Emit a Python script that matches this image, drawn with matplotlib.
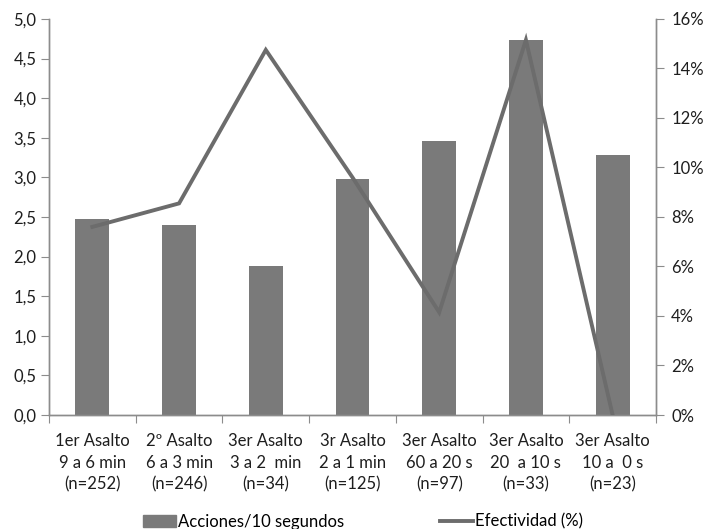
import matplotlib.pyplot as plt
import numpy as np
from matplotlib.ticker import FuncFormatter, FixedLocator
from matplotlib.lines import Line2D
from matplotlib.patches import Patch

categories = [
    "1er Asalto\n9 a 6 min\n(n=252)",
    "2º Asalto\n6 a 3 min\n(n=246)",
    "3er Asalto\n3 a 2  min\n(n=34)",
    "3r Asalto\n2 a 1 min\n(n=125)",
    "3er Asalto\n60 a 20 s\n(n=97)",
    "3er Asalto\n20  a 10 s\n(n=33)",
    "3er Asalto\n10 a  0 s\n(n=23)",
]
acciones = [2.47, 2.40, 1.88, 2.98, 3.46, 4.73, 3.28]
efectividad = [7.6, 8.55, 14.75, 9.6, 4.15, 15.15, 0.0]

plt.rcParams['font.family'] = ['Lato', 'DejaVu Sans']
bar_col = '#7a7a7a'
line_col = '#6c6c6c'
axis_col = '#8c8c8c'
txt_col = '#1e1e1e'
fs = 12

fig = plt.figure(figsize=(7.04, 5.29), dpi=100)
ax = fig.add_axes([0.0696, 0.2155, 0.8622, 0.7486])
x = np.arange(len(categories))
ax.bar(x, acciones, width=0.39, color=bar_col, zorder=2)
ax.set_xlim(-0.5, len(categories) - 0.5)
ax.set_ylim(0, 5)
ax.set_yticks(np.arange(0, 5.01, 0.5))
ax.yaxis.set_major_formatter(FuncFormatter(lambda v, p: f"{v:.1f}".replace('.', ',')))

ax2 = ax.twinx()
ax2.plot(x, efectividad, color=line_col, lw=2.8, zorder=3, solid_joinstyle='miter')
ax2.set_ylim(0, 16)
ax2.set_yticks(np.arange(0, 17, 2))
ax2.yaxis.set_major_formatter(FuncFormatter(lambda v, p: f"{v:.0f}%"))

ax.xaxis.set_major_locator(FixedLocator(np.arange(-0.5, len(categories), 1)))
ax.set_xticklabels([])
ax.xaxis.set_minor_locator(FixedLocator(x))
ax.set_xticklabels(categories, minor=True)
ax.tick_params(axis='x', which='minor', length=0, pad=13, labelsize=fs, colors=txt_col)
ax.tick_params(axis='x', which='major', length=6, color=axis_col, direction='out')
ax.tick_params(axis='y', length=6, color=axis_col, labelsize=fs, labelcolor=txt_col, pad=3)
ax2.tick_params(axis='y', length=6, color=axis_col, labelsize=fs, labelcolor=txt_col, pad=5)

for a in (ax, ax2):
    a.spines['top'].set_visible(False)
    for s in ('left', 'right', 'bottom'):
        a.spines[s].set_color(axis_col)
        a.spines[s].set_linewidth(1)

for lbl in ax.get_xticklabels(minor=True):
    lbl.set_linespacing(1.45)

handles = [Patch(color=bar_col), Line2D([0], [0], color=line_col, lw=2.8)]
fig.legend(handles, ["Acciones/10 segundos", "Efectividad (%)"], loc='lower center',
           bbox_to_anchor=(0.5156, -0.03), ncol=2, frameon=False, fontsize=fs,
           columnspacing=5.7, handlelength=2.0, handletextpad=0.15, handleheight=0.8)

fig.savefig('out.png', dpi=100)
